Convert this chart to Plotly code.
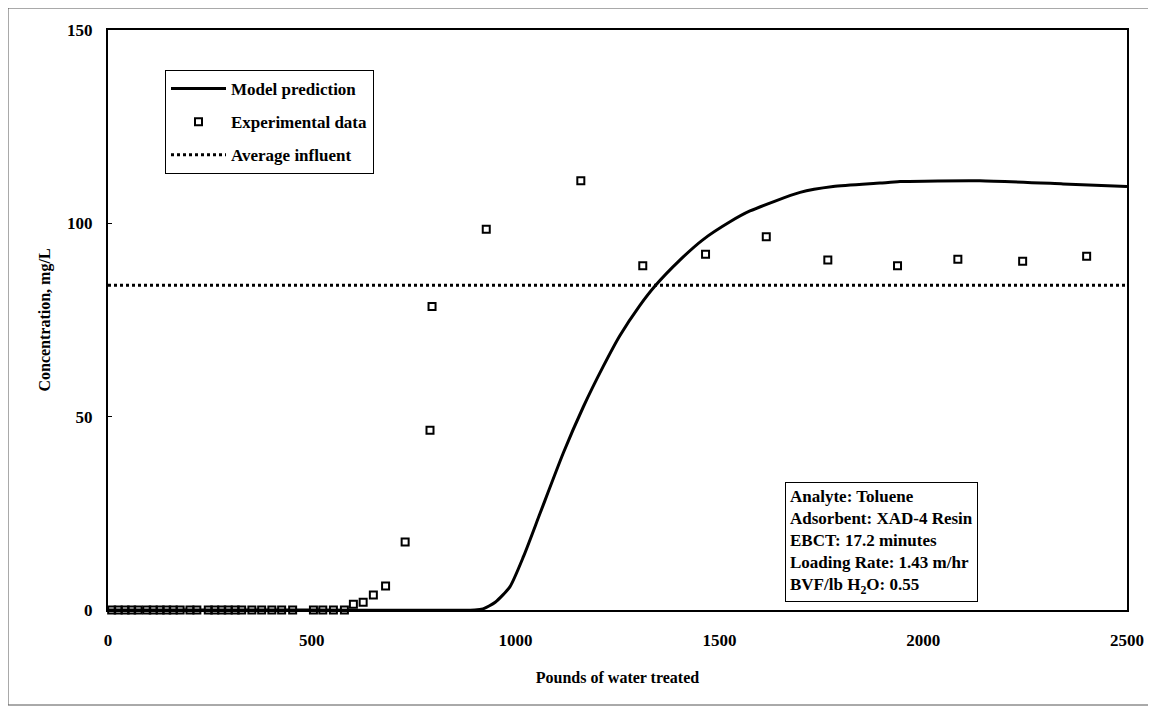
import plotly.graph_objects as go

# Experimental data (pounds of water treated, concentration mg/L)
exp_x = [9, 25, 42, 58, 74, 95, 111, 128, 144, 160, 177, 201, 218, 246, 262, 279, 295,
         312, 328, 353, 377, 402, 426, 453, 504, 527, 553, 580,
         602, 626, 651, 681, 729, 790, 795, 928, 1160, 1312, 1466, 1615, 1766, 1937,
         2085, 2244, 2401]
exp_y = [0, 0, 0, 0, 0, 0, 0, 0, 0, 0, 0, 0, 0, 0, 0, 0, 0,
         0, 0, 0, 0, 0, 0, 0, 0, 0, 0, 0,
         1.5, 2.0, 3.9, 6.2, 17.6, 46.5, 78.5, 98.5, 111, 89, 92, 96.5, 90.5, 89,
         90.7, 90.2, 91.5]

# Model prediction
model_x = [0, 500, 900, 920, 950, 986, 1020, 1060, 1117, 1166, 1215, 1256, 1305, 1342,
           1403, 1460, 1526, 1575, 1698, 1779, 1894, 1943, 2139, 2343, 2500]
model_y = [0, 0, 0, 0.3, 2, 6, 14, 25, 40.6, 52.5, 63, 71.0, 78.8, 83.8,
           90.5, 95.8, 100.4, 103.2, 108, 109.5, 110.4, 110.8, 111, 110.2, 109.5]

# Average influent
infl_x = [0, 2500]
infl_y = [84, 84]

x_ticks = [0, 500, 1000, 1500, 2000, 2500]
y_ticks = [0, 50, 100, 150]

SERIF = "Liberation Serif, Times New Roman, serif"

# page has an 8px body margin; figure is sized so the plot lands where the reference has it
W, H = 1148, 706
L, T = 100, 22
PW, PH = 1019, 580

fig = go.Figure()
fig.add_trace(go.Scatter(x=model_x, y=model_y, mode="lines", name="Model prediction",
                         legendgroup="a",
                         line=dict(color="black", width=3, shape="spline", smoothing=0.6),
                         cliponaxis=False))
fig.add_trace(go.Scatter(x=exp_x, y=exp_y, mode="markers", name="Experimental data",
                         legendgroup="b",
                         marker=dict(symbol="square-open", size=7, color="black",
                                     line=dict(color="black", width=2)),
                         cliponaxis=False))
fig.add_trace(go.Scatter(x=infl_x, y=infl_y, mode="lines", name="Average influent",
                         legendgroup="c",
                         line=dict(color="black", width=3, dash="dot")))

fig.add_annotation(
    xref="paper", yref="paper", x=(777 - L) / PW, y=(602 - 474) / PH,
    xanchor="left", yanchor="top",
    align="left", showarrow=False,
    text=("<b>Analyte: Toluene<br>Adsorbent: XAD-4 Resin<br>EBCT: 17.2 minutes<br>"
          "Loading Rate: 1.43 m/hr<br>BVF/lb H<sub>2</sub>O: 0.55</b>"),
    font=dict(family=SERIF, size=17, color="black"),
    bordercolor="black", borderwidth=1, borderpad=4, bgcolor="white",
)

# outer scan frame
fig.add_shape(type="rect", xref="paper", yref="paper",
              x0=(0 - L) / PW, x1=(1142 - L) / PW,
              y0=(602 - 697) / PH, y1=(602 - 0) / PH,
              line=dict(color="#555555", width=1))

fig.update_layout(
    width=W, height=H,
    margin=dict(l=L, r=W - L - PW, t=T, b=H - T - PH),
    paper_bgcolor="white", plot_bgcolor="white",
    showlegend=True,
    legend=dict(x=(157 - L) / PW, y=(602 - 62) / PH, xanchor="left", yanchor="top",
                bordercolor="black", borderwidth=1, bgcolor="white",
                font=dict(family=SERIF, size=17, color="black", weight="bold"),
                itemwidth=55, tracegroupgap=8, traceorder="grouped"),
    font=dict(family=SERIF, color="black"),
)
fig.update_xaxes(range=[0, 2500], tickvals=x_ticks, showgrid=False, zeroline=False,
                 showline=True, linecolor="black", linewidth=2, mirror=True,
                 ticks="", ticklabelstandoff=14,
                 tickfont=dict(family=SERIF, size=17, color="black", weight="bold"),
                 title=dict(text="<b>Pounds of water treated</b>",
                            font=dict(family=SERIF, size=16, color="black"), standoff=22))
fig.update_yaxes(range=[0, 150], tickvals=y_ticks, showgrid=False, zeroline=False,
                 showline=True, linecolor="black", linewidth=2, mirror=True,
                 ticks="inside", ticklen=4, tickcolor="black", ticklabelstandoff=10,
                 tickfont=dict(family=SERIF, size=17, color="black", weight="bold"),
                 title=dict(text="<b>Concentration, mg/L</b>",
                            font=dict(family=SERIF, size=16, color="black"), standoff=12))

fig.write_html("out.html")
